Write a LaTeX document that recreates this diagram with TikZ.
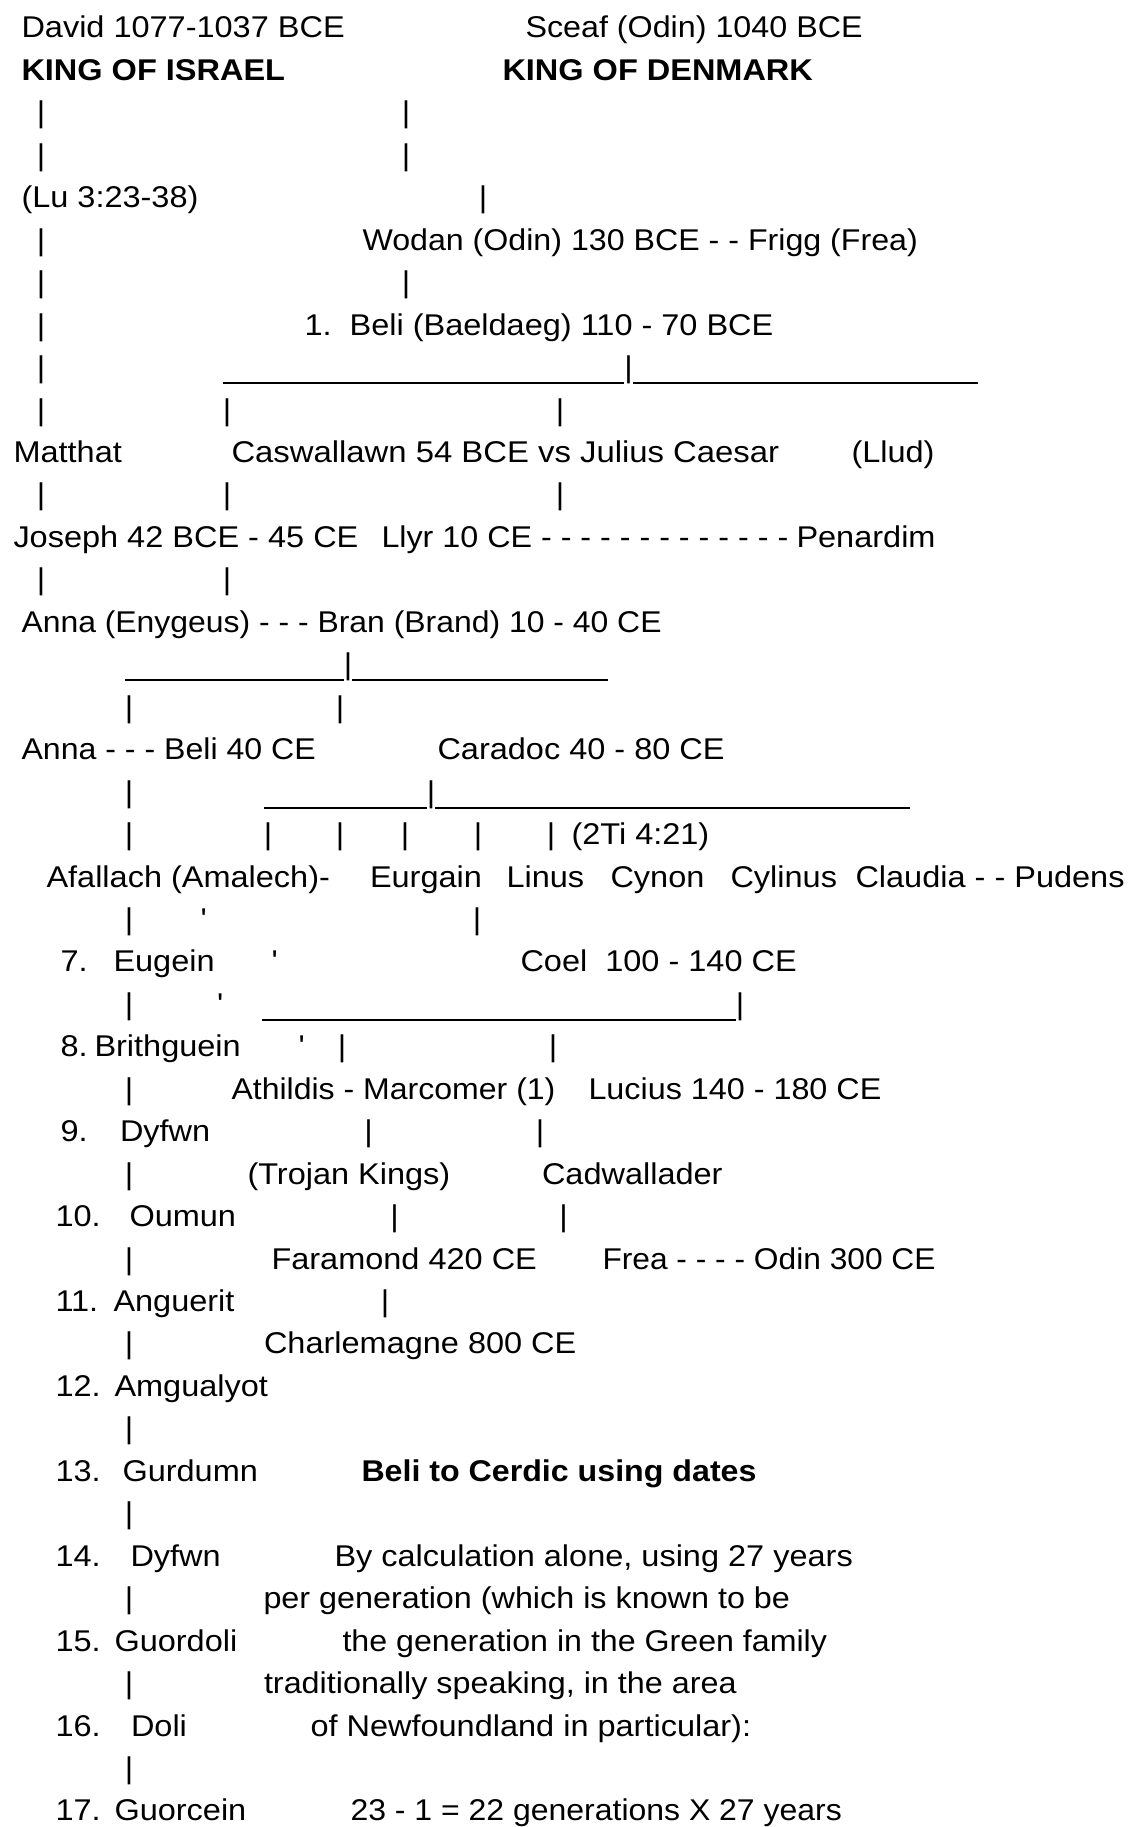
\documentclass[tikz,border=0pt]{standalone}
\usepackage{graphicx}
\usepackage{fontspec}
\setmainfont{Liberation Sans}[FakeStretch=1.083]
\frenchspacing
\newcommand\LY[1]{-38-42.45*#1}
\newcommand\hs[2]{\scalebox{#1}[1]{#2}}
\begin{document}
\begin{tikzpicture}[x=1pt,y=1pt,
  font=\fontsize{30}{36}\selectfont,
  t/.style={anchor=base west,inner sep=0pt,outer sep=0pt,xshift=1.5pt},
  tb/.style={t,font=\fontsize{30}{36}\selectfont\bfseries},
  bar/.style={anchor=base,inner sep=0pt,outer sep=0pt},
  rule/.style={line width=1.8pt}]
\fill[white] (0,0) rectangle (1128,-1827);
\useasboundingbox (0,0) rectangle (1128,-1827);
% line 0-1
\node[t] (david) at (20,{\LY{0}}) {David 1077-1037 BCE};
\node[t] (sceaf) at (524,{\LY{0}}) {\hs{0.993}{Sceaf (Odin) 1040 BCE}};
\node[tb] (israel) at (20,{\LY{1}}) {KING OF ISRAEL};
\node[tb] (denmark) at (501,{\LY{1}}) {KING OF DENMARK};
% 2-3
\node[bar] (b2a) at (41,{\LY{2}}) {|};
\node[bar] (b2b) at (406,{\LY{2}}) {|};
\node[bar] (b3a) at (41,{\LY{3}}) {|};
\node[bar] (b3b) at (406,{\LY{3}}) {|};
% 4
\node[t] (lu) at (20,{\LY{4}}) {(Lu 3:23-38)};
\node[bar] (b4b) at (483,{\LY{4}}) {|};
% 5
\node[bar] (b5a) at (41,{\LY{5}}) {|};
\node[t] (wodan) at (361,{\LY{5}}) {\hs{0.99}{Wodan (Odin) 130 BCE - - Frigg (Frea)}};
% 6
\node[bar] (b6a) at (41,{\LY{6}}) {|};
\node[bar] (b6b) at (406,{\LY{6}}) {|};
% 7
\node[bar] (b7a) at (41,{\LY{7}}) {|};
\node[t] (beli1) at (303,{\LY{7}}) {1.\ \ Beli (Baeldaeg) 110 - 70 BCE};
% 8
\node[bar] (b8a) at (41,{\LY{8}}) {|};
\node[bar] (b8b) at (628.5,{\LY{8}}) {|};
\coordinate (u8a) at (223,{\LY{8}-5.5});
\coordinate (u8b) at (978,{\LY{8}-5.5});
\draw[rule] (u8a) -- (b8b.west |- u8a);
\draw[rule] (b8b.east |- u8a) -- (u8b);
% 9
\node[bar] (b9a) at (41,{\LY{9}}) {|};
\node[bar] (b9b) at (227,{\LY{9}}) {|};
\node[bar] (b9c) at (560,{\LY{9}}) {|};
% 10
\node[t] (matthat) at (12,{\LY{10}}) {Matthat};
\node[t] (caswallawn) at (230,{\LY{10}}) {\hs{1.011}{Caswallawn 54 BCE vs Julius Caesar}};
\node[t] (llud) at (850,{\LY{10}}) {(Llud)};
% 11
\node[bar] (b11a) at (41,{\LY{11}}) {|};
\node[bar] (b11b) at (227,{\LY{11}}) {|};
\node[bar] (b11c) at (560,{\LY{11}}) {|};
% 12
\node[t] (joseph) at (12,{\LY{12}}) {Joseph 42 BCE - 45 CE};
\node[t] (llyr) at (380,{\LY{12}}) {\hs{0.993}{Llyr 10 CE - - - - - - - - - - - - -}};
\node[t] (penardim) at (795,{\LY{12}}) {Penardim};
% 13
\node[bar] (b13a) at (41,{\LY{13}}) {|};
\node[bar] (b13b) at (227,{\LY{13}}) {|};
% 14
\node[t] (anna1) at (20,{\LY{14}}) {\hs{0.982}{Anna (Enygeus) - - - Bran (Brand) 10 - 40 CE}};
% 15
\node[bar] (b15) at (348,{\LY{15}}) {|};
\coordinate (u15a) at (125,{\LY{15}-5.5});
\coordinate (u15b) at (608,{\LY{15}-5.5});
\draw[rule] (u15a) -- (b15.west |- u15a);
\draw[rule] (b15.east |- u15a) -- (u15b);
% 16
\node[bar] (b16a) at (129,{\LY{16}}) {|};
\node[bar] (b16b) at (340,{\LY{16}}) {|};
% 17
\node[t] (anna2) at (20,{\LY{17}}) {\hs{0.988}{Anna - - - Beli 40 CE}};
\node[t] (caradoc) at (436,{\LY{17}}) {Caradoc 40 - 80 CE};
% 18
\node[bar] (b18a) at (129,{\LY{18}}) {|};
\node[bar] (b18b) at (431,{\LY{18}}) {|};
\coordinate (u18a) at (264,{\LY{18}-5.5});
\coordinate (u18b) at (910,{\LY{18}-5.5});
\draw[rule] (u18a) -- (b18b.west |- u18a);
\draw[rule] (b18b.east |- u18a) -- (u18b);
% 19
\node[bar] (b19a) at (129,{\LY{19}}) {|};
\node[bar] (b19b) at (268,{\LY{19}}) {|};
\node[bar] (b19c) at (340,{\LY{19}}) {|};
\node[bar] (b19d) at (405,{\LY{19}}) {|};
\node[bar] (b19e) at (478,{\LY{19}}) {|};
\node[bar] (b19f) at (551,{\LY{19}}) {|};
\node[t] (twoti) at (570,{\LY{19}}) {(2Ti 4:21)};
% 20
\node[t] (afallach) at (45,{\LY{20}}) {Afallach (Amalech)-};
\node[t] (eurgain) at (368.5,{\LY{20}}) {Eurgain};
\node[t] (linus) at (505,{\LY{20}}) {Linus};
\node[t] (cynon) at (609,{\LY{20}}) {Cynon};
\node[t] (cylinus) at (729,{\LY{20}}) {Cylinus};
\node[t] (claudia) at (854,{\LY{20}}) {Claudia - - Pudens};
% 21
\node[bar] (b21a) at (129,{\LY{21}}) {|};
\node[bar] (q21) at (203.5,{\LY{21}}) {\textquotesingle};
\node[bar] (b21b) at (477,{\LY{21}}) {|};
% 22
\node[t] (n7) at (59,{\LY{22}}) {7.};
\node[t] (eugein) at (112,{\LY{22}}) {Eugein};
\node[bar] (q22) at (274.5,{\LY{22}}) {\textquotesingle};
\node[t] (coel) at (519,{\LY{22}}) {Coel\ \ 100 - 140 CE};
% 23
\node[bar] (b23a) at (129,{\LY{23}}) {|};
\node[bar] (q23) at (220,{\LY{23}}) {\textquotesingle};
\node[bar] (b23b) at (740,{\LY{23}}) {|};
\coordinate (u23a) at (262,{\LY{23}-5.5});
\draw[rule] (u23a) -- (b23b.west |- u23a);
% 24
\node[t] (n8) at (59,{\LY{24}}) {8.};
\node[t] (brithguein) at (93,{\LY{24}}) {Brithguein};
\node[bar] (q24) at (301.5,{\LY{24}}) {\textquotesingle};
\node[bar] (b24a) at (342,{\LY{24}}) {|};
\node[bar] (b24b) at (553,{\LY{24}}) {|};
% 25
\node[bar] (b25a) at (129,{\LY{25}}) {|};
\node[t] (athildis) at (230,{\LY{25}}) {\hs{0.986}{Athildis - Marcomer (1)}};
\node[t] (lucius) at (587,{\LY{25}}) {\hs{0.995}{Lucius 140 - 180 CE}};
% 26
\node[t] (n9) at (59,{\LY{26}}) {9.};
\node[t] (dyfwn1) at (118.5,{\LY{26}}) {Dyfwn};
\node[bar] (b26a) at (368.5,{\LY{26}}) {|};
\node[bar] (b26b) at (540,{\LY{26}}) {|};
% 27
\node[bar] (b27a) at (129,{\LY{27}}) {|};
\node[t] (trojan) at (246,{\LY{27}}) {(Trojan Kings)};
\node[t] (cadwallader) at (540.5,{\LY{27}}) {Cadwallader};
% 28
\node[t] (n10) at (54,{\LY{28}}) {10.};
\node[t] (oumun) at (128,{\LY{28}}) {Oumun};
\node[bar] (b28a) at (394.5,{\LY{28}}) {|};
\node[bar] (b28b) at (563.5,{\LY{28}}) {|};
% 29
\node[bar] (b29a) at (129,{\LY{29}}) {|};
\node[t] (faramond) at (270,{\LY{29}}) {Faramond 420 CE};
\node[t] (frea) at (601,{\LY{29}}) {\hs{0.976}{Frea - - - - Odin 300 CE}};
% 30
\node[t] (n11) at (54,{\LY{30}}) {11.};
\node[t] (anguerit) at (112,{\LY{30}}) {Anguerit};
\node[bar] (b30a) at (385,{\LY{30}}) {|};
% 31
\node[bar] (b31a) at (129,{\LY{31}}) {|};
\node[t] (charlemagne) at (262.5,{\LY{31}}) {Charlemagne 800 CE};
% 32
\node[t] (n12) at (54,{\LY{32}}) {12.};
\node[t] (amgualyot) at (113,{\LY{32}}) {Amgualyot};
% 33
\node[bar] (b33a) at (129,{\LY{33}}) {|};
% 34
\node[t] (n13) at (54,{\LY{34}}) {13.};
\node[t] (gurdumn) at (121,{\LY{34}}) {Gurdumn};
\node[tb] (title) at (360,{\LY{34}}) {\hs{0.99}{Beli to Cerdic using dates}};
% 35
\node[bar] (b35a) at (129,{\LY{35}}) {|};
% 36
\node[t] (n14) at (54,{\LY{36}}) {14.};
\node[t] (dyfwn2) at (129,{\LY{36}}) {Dyfwn};
\node[t] (p1) at (333,{\LY{36}}) {By calculation alone, using 27 years};
% 37
\node[bar] (b37a) at (129,{\LY{37}}) {|};
\node[t] (p2) at (262,{\LY{37}}) {\hs{0.995}{per generation (which is known to be}};
% 38
\node[t] (n15) at (54,{\LY{38}}) {15.};
\node[t] (guordoli) at (113,{\LY{38}}) {Guordoli};
\node[t] (p3) at (341,{\LY{38}}) {\hs{0.99}{the generation in the Green family}};
% 39
\node[bar] (b39a) at (129,{\LY{39}}) {|};
\node[t] (p4) at (262.5,{\LY{39}}) {\hs{0.995}{traditionally speaking, in the area}};
% 40
\node[t] (n16) at (54,{\LY{40}}) {16.};
\node[t] (doli) at (129.5,{\LY{40}}) {Doli};
\node[t] (p5) at (309,{\LY{40}}) {of Newfoundland in particular):};
% 41
\node[bar] (b41a) at (129,{\LY{41}}) {|};
% 42
\node[t] (n17) at (54,{\LY{42}}) {17.};
\node[t] (guorcein) at (113,{\LY{42}}) {Guorcein};
\node[t] (p6) at (349,{\LY{42}}) {\hs{0.984}{23 - 1 = 22 generations X 27 years}};
\end{tikzpicture}
\end{document}
